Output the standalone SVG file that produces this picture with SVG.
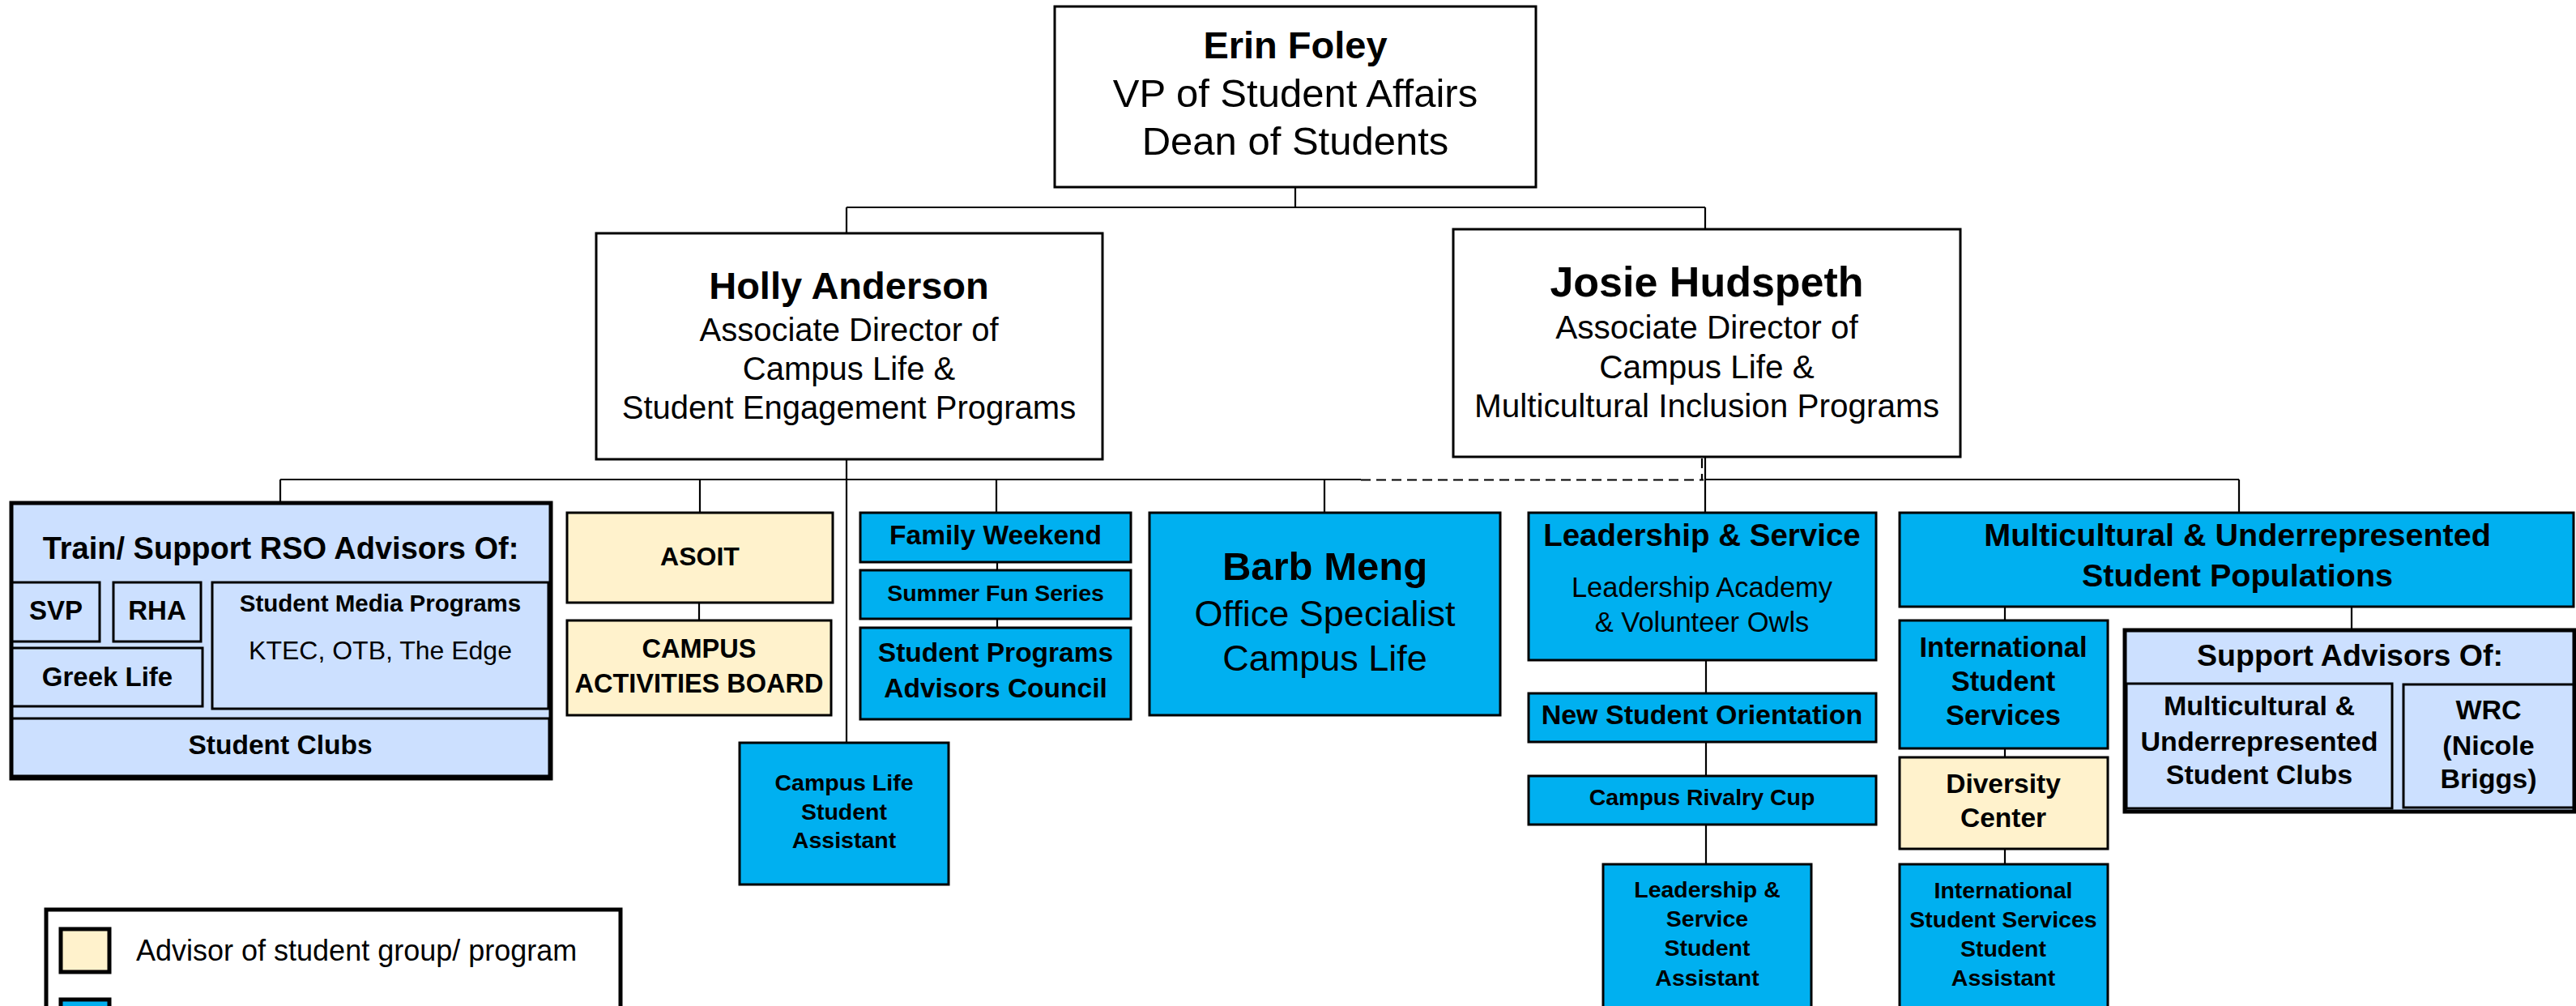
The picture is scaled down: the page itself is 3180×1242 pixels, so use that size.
<svg xmlns="http://www.w3.org/2000/svg" width="3180" height="1242" viewBox="0 0 3180 1242">
<style>
  text { font-family: "Liberation Sans", Arial, sans-serif; fill: #000; text-anchor: middle; }
  .b { font-weight: bold; }
  .box { stroke: #000; stroke-width: 3; }
  .white { fill: #fff; }
  .blue { fill: #00B0F0; }
  .cream { fill: #FFF2CC; }
  .lb { fill: #CCE0FF; }
  .thick { stroke-width: 5; }
  .ln { stroke: #000; stroke-width: 2.2; fill: none; }
  .dash { stroke: #000; stroke-width: 2.2; fill: none; stroke-dasharray: 12 7; }
</style>
<rect width="3180" height="1242" fill="#fff"/>

<g id="connectors">
  <path class="ln" d="M1599 231 V256 M1045 256 H2105 M1045 256 V288 M2105 256 V283"/>
  <path class="ln" d="M1045 567 V917"/>
  <path class="ln" d="M346 592 H1680"/>
  <path class="dash" d="M1680 592.5 H2103 M2101 566 V592"/>
  <path class="ln" d="M2105 564 V633 M2105 592 H2764"/>
  <path class="ln" d="M346 592 V621 M864 592 V633 M1230 592 V633 M1635 592 V633 M2764 592 V633"/>
  <path class="ln" d="M863 744 V766"/>
  <path class="ln" d="M1231 694 V704 M1231 764 V775"/>
  <path class="ln" d="M2106 815 V856 M2106 916 V958 M2106 1018 V1067"/>
  <path class="ln" d="M2475 749 V766 M2475 924 V935 M2475 1048 V1067"/>
  <path class="ln" d="M2903 749 V778"/>
</g>

<g id="erin-foley">
  <rect class="box white" x="1302" y="8" width="594" height="223"/>
  <text x="1599" y="72" class="b" font-size="47">Erin Foley</text>
  <text x="1599" y="132" font-size="49">VP of Student Affairs</text>
  <text x="1599" y="191" font-size="49">Dean of Students</text>
</g>

<g id="holly-anderson">
  <rect class="box white" x="736" y="288" width="625" height="279"/>
  <text x="1048" y="369" class="b" font-size="47">Holly Anderson</text>
  <text x="1048" y="421" font-size="40">Associate Director of</text>
  <text x="1048" y="469" font-size="40">Campus Life &amp;</text>
  <text x="1048" y="517" font-size="40">Student Engagement Programs</text>
</g>

<g id="josie-hudspeth">
  <rect class="box white" x="1794" y="283" width="626" height="281"/>
  <text x="2107" y="366" class="b" font-size="52">Josie Hudspeth</text>
  <text x="2107" y="418" font-size="40.5">Associate Director of</text>
  <text x="2107" y="467" font-size="40.5">Campus Life &amp;</text>
  <text x="2107" y="515" font-size="40.5">Multicultural Inclusion Programs</text>
</g>

<g id="train-support-rso">
  <rect class="box lb thick" x="14" y="621" width="666" height="340"/>
  <text x="346.5" y="690" class="b" font-size="38">Train/ Support RSO Advisors Of:</text>
  <g id="svp">
    <rect class="box lb" x="15" y="719" width="108" height="73"/>
    <text x="69" y="765" class="b" font-size="33">SVP</text>
  </g>
  <g id="rha">
    <rect class="box lb" x="140" y="719" width="108" height="73"/>
    <text x="194" y="765" class="b" font-size="33">RHA</text>
  </g>
  <g id="greek-life">
    <rect class="box lb" x="15" y="800" width="235" height="72"/>
    <text x="132.5" y="847" class="b" font-size="33">Greek Life</text>
  </g>
  <g id="student-media">
    <rect class="box lb" x="262" y="719" width="415" height="156"/>
    <text x="469.5" y="755" class="b" font-size="29.5">Student Media Programs</text>
    <text x="469.5" y="814" font-size="32">KTEC, OTB, The Edge</text>
  </g>
  <g id="student-clubs">
    <rect class="box lb" x="15" y="887" width="663" height="71"/>
    <text x="346" y="931" class="b" font-size="33.5">Student Clubs</text>
  </g>
</g>

<g id="asoit">
  <rect class="box cream" x="700" y="633" width="328" height="111"/>
  <text x="864" y="698" class="b" font-size="32">ASOIT</text>
</g>

<g id="campus-activities-board">
  <rect class="box cream" x="700" y="766" width="326" height="117"/>
  <text x="863" y="812" class="b" font-size="32.5">CAMPUS</text>
  <text x="863" y="855" class="b" font-size="32.5">ACTIVITIES BOARD</text>
</g>

<g id="campus-life-student-assistant">
  <rect class="box blue" x="913" y="917" width="258" height="175"/>
  <text x="1042" y="976" class="b" font-size="28.5">Campus Life</text>
  <text x="1042" y="1012" class="b" font-size="28.5">Student</text>
  <text x="1042" y="1047" class="b" font-size="28.5">Assistant</text>
</g>

<g id="family-weekend">
  <rect class="box blue" x="1062" y="633" width="334" height="61"/>
  <text x="1229" y="672" class="b" font-size="33.5">Family Weekend</text>
</g>

<g id="summer-fun-series">
  <rect class="box blue" x="1062" y="704" width="334" height="60"/>
  <text x="1229" y="742" class="b" font-size="28.5">Summer Fun Series</text>
</g>

<g id="student-programs-advisors-council">
  <rect class="box blue" x="1062" y="775" width="334" height="113"/>
  <text x="1229" y="817" class="b" font-size="33.5">Student Programs</text>
  <text x="1229" y="861" class="b" font-size="33.5">Advisors Council</text>
</g>

<g id="barb-meng">
  <rect class="box blue" x="1419" y="633" width="433" height="250"/>
  <text x="1635.5" y="716" class="b" font-size="49">Barb Meng</text>
  <text x="1635.5" y="773" font-size="45">Office Specialist</text>
  <text x="1635.5" y="828" font-size="45">Campus Life</text>
</g>

<g id="leadership-service">
  <rect class="box blue" x="1887" y="633" width="429" height="182"/>
  <text x="2101" y="674" class="b" font-size="38.5">Leadership &amp; Service</text>
  <text x="2101" y="737" font-size="34.5">Leadership Academy</text>
  <text x="2101" y="780" font-size="34.5">&amp; Volunteer Owls</text>
</g>

<g id="new-student-orientation">
  <rect class="box blue" x="1887" y="856" width="429" height="60"/>
  <text x="2101" y="894" class="b" font-size="34">New Student Orientation</text>
</g>

<g id="campus-rivalry-cup">
  <rect class="box blue" x="1887" y="958" width="429" height="60"/>
  <text x="2101" y="994" class="b" font-size="28.5">Campus Rivalry Cup</text>
</g>

<g id="leadership-service-student-assistant">
  <rect class="box blue" x="1979" y="1067" width="257" height="200"/>
  <text x="2107.5" y="1108" class="b" font-size="28.5">Leadership &amp;</text>
  <text x="2107.5" y="1144" class="b" font-size="28.5">Service</text>
  <text x="2107.5" y="1180" class="b" font-size="28.5">Student</text>
  <text x="2107.5" y="1217" class="b" font-size="28.5">Assistant</text>
</g>

<g id="multicultural-underrepresented">
  <rect class="box blue" x="2345" y="633" width="832" height="116"/>
  <text x="2762" y="674" class="b" font-size="39.5">Multicultural &amp; Underrepresented</text>
  <text x="2762" y="724" class="b" font-size="39.5">Student Populations</text>
</g>

<g id="international-student-services">
  <rect class="box blue" x="2345" y="766" width="257" height="158"/>
  <text x="2473" y="811" class="b" font-size="34.5">International</text>
  <text x="2473" y="853" class="b" font-size="34.5">Student</text>
  <text x="2473" y="895" class="b" font-size="34.5">Services</text>
</g>

<g id="diversity-center">
  <rect class="box cream" x="2345" y="935" width="257" height="113"/>
  <text x="2473" y="979" class="b" font-size="33.5">Diversity</text>
  <text x="2473" y="1021" class="b" font-size="33.5">Center</text>
</g>

<g id="iss-student-assistant">
  <rect class="box blue" x="2345" y="1067" width="257" height="200"/>
  <text x="2473" y="1109" class="b" font-size="28.5">International</text>
  <text x="2473" y="1145" class="b" font-size="28.5">Student Services</text>
  <text x="2473" y="1181" class="b" font-size="28.5">Student</text>
  <text x="2473" y="1217" class="b" font-size="28.5">Assistant</text>
</g>

<g id="support-advisors">
  <rect class="box lb thick" x="2623" y="778" width="555" height="224"/>
  <text x="2901" y="822" class="b" font-size="37.5">Support Advisors Of:</text>
  <g id="mu-student-clubs">
    <rect class="box lb" x="2625" y="844" width="328" height="154"/>
    <text x="2789" y="883" class="b" font-size="34">Multicultural &amp;</text>
    <text x="2789" y="927" class="b" font-size="34">Underrepresented</text>
    <text x="2789" y="968" class="b" font-size="34">Student Clubs</text>
  </g>
  <g id="wrc">
    <rect class="box lb" x="2967" y="845" width="210" height="152"/>
    <text x="3072" y="888" class="b" font-size="34">WRC</text>
    <text x="3072" y="932" class="b" font-size="34">(Nicole</text>
    <text x="3072" y="973" class="b" font-size="34">Briggs)</text>
  </g>
</g>

<g id="legend">
  <rect class="box white thick" x="57" y="1123" width="709" height="200"/>
  <rect class="box cream thick" x="75" y="1147" width="60" height="53"/>
  <text x="168" y="1186" font-size="36" style="text-anchor:start">Advisor of student group/ program</text>
  <rect class="box blue thick" x="75" y="1234" width="60" height="40"/>
</g>
</svg>
